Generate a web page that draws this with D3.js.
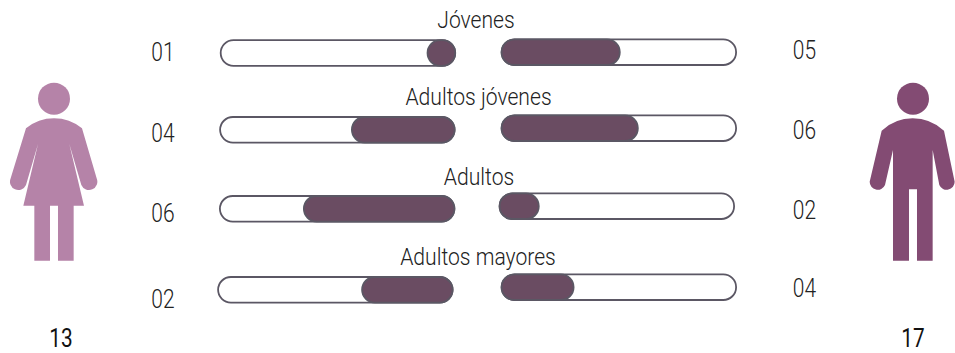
<!DOCTYPE html>
<html>
<head>
<meta charset="utf-8">
<script src="https://cdn.jsdelivr.net/npm/d3@7"></script>
<style>
  html, body { margin: 0; background: #fff; }
  text { font-family: Roboto, sans-serif; }
</style>
</head>
<body>
<svg id="chart" width="955" height="353"></svg>
<script>
// values
var categories = ['Jóvenes', 'Adultos jóvenes', 'Adultos', 'Adultos mayores'];
var womenLabels = ['01', '04', '06', '02'];
var menLabels = ['05', '06', '02', '04'];
// how full each pill is, in percent (not proportional to the labels in the original)
var womenShare = [11.8, 43.8, 64.2, 38.6];
var menShare = [50.4, 58.1, 16.7, 30.7];
var totals = ['13', '17'];

// the rows in the original are hand placed, so they don't sit on a regular grid
var barW = 234.5, barH = 25.6;
var leftTop = d3.scaleOrdinal(categories, [40.2, 117, 196, 277]);
var rightTop = d3.scaleOrdinal(categories, [39.4, 115.4, 193.4, 274.4]);
var leftEnd = d3.scaleOrdinal(categories, [455.2, 454.6, 454.4, 452.6]);
var rightStart = d3.scaleOrdinal(categories, [501.6, 501.6, 499.6, 501.6]);
var titleX = d3.scaleOrdinal(categories, [476, 478.5, 479, 478]);
var titleY = d3.scaleOrdinal(categories, [27.5, 105, 185, 264.5]);
var leftNumY = d3.scaleOrdinal(categories, [60.5, 141.5, 221.5, 307.5]);
var rightNumY = d3.scaleOrdinal(categories, [58.5, 138.5, 218.5, 296.5]);

var fillW = d3.scaleLinear().domain([0, 100]).range([0, barW]);

var svg = d3.select('#chart');

var rows = categories.map(function(c, i) {
  return { name: c, women: womenShare[i], men: menShare[i], wl: womenLabels[i], ml: menLabels[i] };
});

function pill(g, x, y, w, fill) {
  g.append('rect')
    .attr('x', x).attr('y', y)
    .attr('width', w).attr('height', barH)
    .attr('rx', Math.min(barH / 2, w / 2)).attr('ry', barH / 2)
    .attr('fill', fill)
    .attr('stroke', '#5b5764')
    .attr('stroke-width', 1.8);
}

var row = svg.selectAll('g.row').data(rows).enter().append('g').attr('class', 'row');

row.each(function(d) {
  var g = d3.select(this);
  var le = leftEnd(d.name), rs = rightStart(d.name);
  pill(g, le - barW, leftTop(d.name), barW, '#fff');
  pill(g, le - fillW(d.women), leftTop(d.name), fillW(d.women), '#6a4c62');
  pill(g, rs, rightTop(d.name), barW, '#fff');
  pill(g, rs, rightTop(d.name), fillW(d.men), '#6a4c62');
});

// the original type is tall and narrow, Roboto Light squeezed sideways
function squeezed(sel, x, y, k) {
  sel.attr('transform', function(d) { return 'translate(' + x(d) + ',' + y(d) + ') scale(' + k + ',1)'; })
    .attr('text-anchor', 'middle')
    .attr('font-weight', 300)
    .attr('fill', '#222');
}

row.append('text')
  .attr('font-size', 24)
  .call(squeezed, function(d) { return titleX(d.name); }, function(d) { return titleY(d.name); }, 0.88)
  .text(function(d) { return d.name; });

row.append('text')
  .attr('font-size', 25)
  .call(squeezed, function() { return 163; }, function(d) { return leftNumY(d.name); }, 0.84)
  .text(function(d) { return d.wl; });

row.append('text')
  .attr('font-size', 25)
  .call(squeezed, function() { return 804.5; }, function(d) { return rightNumY(d.name); }, 0.84)
  .text(function(d) { return d.ml; });

// figures, traced at 3x
var woman = 'M78,175 Q115,145 162,145 Q209,145 246,175 L290,325 A24,24 0 0 1 244,345 L208,222 L252,407 L221,407 L221,572 L174,572 L174,407 L150,407 L150,572 L103,572 L103,407 L70,407 L114,222 L78,345 A24,24 0 0 1 32,325 Z';
var man = 'M65,182 Q105,145 158,145 Q211,145 252,182 L284,335 A24,24 0 0 1 238,345 L218,240 L218,572 L171,572 L171,358 L147,358 L147,572 L99,572 L99,240 L75,345 A24,24 0 0 1 29,335 Z';

var fw = svg.append('g').attr('transform', 'translate(0,70) scale(0.3333)').attr('fill', '#b583a8');
fw.append('path').attr('d', woman);
fw.append('circle').attr('cx', 162).attr('cy', 86).attr('r', 48);

var fm = svg.append('g').attr('transform', 'translate(860,70) scale(0.3333)').attr('fill', '#834b73');
fm.append('path').attr('d', man);
fm.append('circle').attr('cx', 159).attr('cy', 86).attr('r', 48);

svg.selectAll('text.total').data(totals).enter().append('text')
  .attr('class', 'total')
  .attr('transform', function(d, i) { return 'translate(' + (i === 0 ? 61 : 913) + ',347) scale(0.8,1)'; })
  .attr('text-anchor', 'middle')
  .attr('font-size', 26)
  .attr('fill', '#111')
  .text(function(d) { return d; });
</script>
</body>
</html>
